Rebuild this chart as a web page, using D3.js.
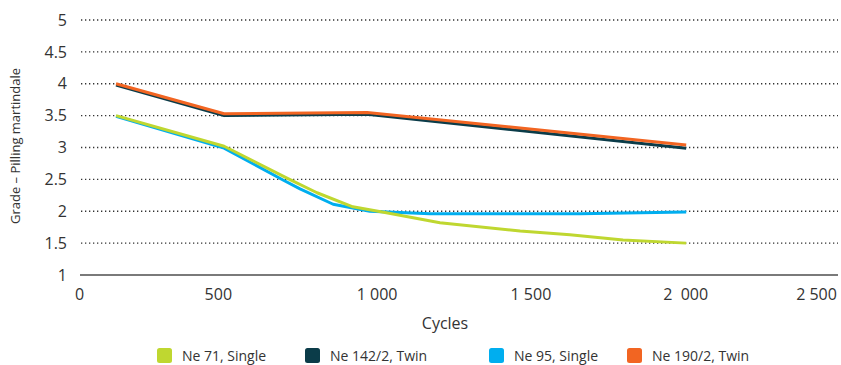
<!DOCTYPE html>
<html>
<head>
<meta charset="utf-8">
<script src="https://cdn.jsdelivr.net/npm/d3@7/dist/d3.min.js"></script>
<style>
  body { margin: 0; background: #fff; }
  svg text { font-family: "Open Sans", sans-serif; fill: #333; }
</style>
</head>
<body>
<svg id="chart" width="841" height="365"></svg>
<script>
// Data
const seriesNames = ["Ne 71, Single", "Ne 142/2, Twin", "Ne 95, Single", "Ne 190/2, Twin"];
const seriesColors = ["#bfd730", "#0b3c49", "#00aeef", "#f26522"];

const cycles71 = [122, 478, 685, 784, 902, 1008, 1189, 1453, 1617, 1792, 2000];
const grade71 = [3.5, 3.02, 2.52, 2.29, 2.07, 1.98, 1.82, 1.69, 1.63, 1.55, 1.5];

const cycles95 = [122, 478, 672, 728, 837, 958, 1156, 1650, 2000];
const grade95 = [3.49, 2.99, 2.49, 2.35, 2.11, 2.0, 1.96, 1.96, 1.99];

const cyclesTwin = [122, 478, 949, 2000];
const grade142 = [3.98, 3.5, 3.52, 2.99];
const grade190 = [4.0, 3.53, 3.55, 3.04];

const xTicks = [0, 500, 1000, 1500, 2000, 2500];
const xTickLabels = ["0", "500", "1 000", "1 500", "2  000", "2 500"];
const yTicks = [1, 1.5, 2, 2.5, 3, 3.5, 4, 4.5, 5];
const yTickLabels = ["1", "1.5", "2", "2.5", "3", "3.5", "4", "4.5", "5"];

const svg = d3.select("#chart");

const x = d3.scaleLinear().domain([0, 2500]).range([79, 838]);
const y = d3.scaleLinear().domain([1, 5]).range([275, 20]);

// Dotted gridlines
svg.append("g")
    .selectAll("line")
    .data(yTicks.slice(1))
    .join("line")
    .attr("x1", 81)
    .attr("x2", 838)
    .attr("y1", d => y(d))
    .attr("y2", d => y(d))
    .attr("stroke", "#333")
    .attr("stroke-width", 1.3)
    .attr("stroke-dasharray", "1.3,2.7");

// Y axis labels
const yAxis = svg.append("g")
    .attr("transform", "translate(79,0)")
    .call(d3.axisLeft(y).tickValues(yTicks).tickFormat((d, i) => yTickLabels[i]).tickSize(0).tickPadding(12));
yAxis.select(".domain").remove();
yAxis.selectAll("text").style("font-size", "16px").attr("fill", "#333");

// X axis
// small label nudges so the labels sit where the original put them
const xNudge = [0, -13, -6, -4, -1, -22];
const xAxis = svg.append("g")
    .attr("transform", "translate(0,275)")
    .call(d3.axisBottom(x).tickValues(xTicks).tickFormat((d, i) => xTickLabels[i]).tickSize(0).tickPadding(14));
xAxis.select(".domain").remove();
xAxis.selectAll("text")
    .style("font-size", "16px")
    .style("white-space", "pre")
    .attr("fill", "#333")
    .attr("dx", (d, i) => xNudge[i]);

svg.append("line")
    .attr("x1", x(0) + 1)
    .attr("x2", 838)
    .attr("y1", y(1))
    .attr("y2", y(1))
    .attr("stroke", "#7a7a7a")
    .attr("stroke-width", 2);

// Axis titles
svg.append("text")
    .attr("x", 445)
    .attr("y", 329)
    .attr("text-anchor", "middle")
    .style("font-size", "16px")
    .text("Cycles");

svg.append("text")
    .attr("transform", "translate(20,146) rotate(-90)")
    .attr("text-anchor", "middle")
    .style("font-size", "13px")
    .text("Grade \u2013 Pilling martindale");

// Lines (draw order: blue, green, dark, orange)
const line = d3.line()
    .x(d => x(d[0]))
    .y(d => y(d[1]));

const series = [
    { name: seriesNames[2], color: seriesColors[2], pts: d3.zip(cycles95, grade95) },
    { name: seriesNames[0], color: seriesColors[0], pts: d3.zip(cycles71, grade71) },
    { name: seriesNames[1], color: seriesColors[1], pts: d3.zip(cyclesTwin, grade142) },
    { name: seriesNames[3], color: seriesColors[3], pts: d3.zip(cyclesTwin, grade190) }
];

svg.append("g")
    .selectAll("path")
    .data(series)
    .join("path")
    .attr("d", d => line(d.pts))
    .attr("fill", "none")
    .attr("stroke", d => d.color)
    .attr("stroke-width", 3)
    .attr("stroke-linejoin", "round");

// Legend
const legendX = [157, 305, 489, 627];
const legend = svg.append("g");
seriesNames.forEach((name, i) => {
    const row = legend.append("g")
        .attr("transform", `translate(${legendX[i]}, 348)`);
    row.append("rect")
        .attr("width", 15)
        .attr("height", 15)
        .attr("rx", 2.5)
        .attr("fill", seriesColors[i]);
    row.append("text")
        .attr("x", 25)
        .attr("y", 12.5)
        .style("font-size", "14px")
        .text(name);
});
</script>
</body>
</html>
